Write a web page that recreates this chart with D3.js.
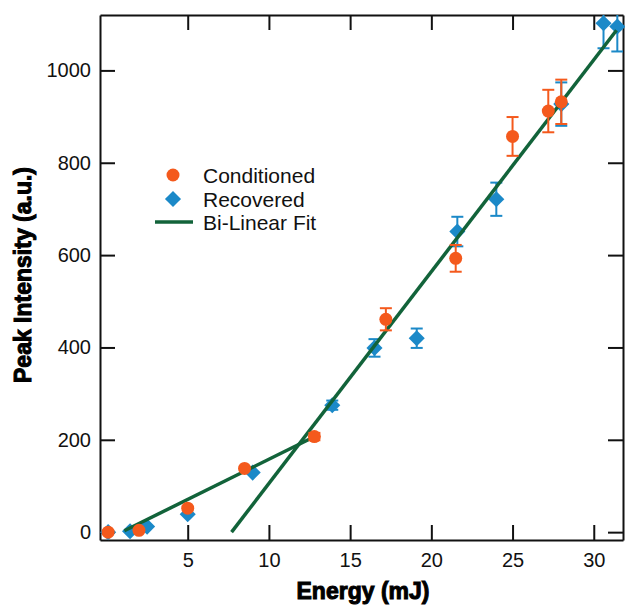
<!DOCTYPE html>
<html>
<head>
<meta charset="utf-8">
<script src="https://cdn.jsdelivr.net/npm/d3@7"></script>
<style>
  body { margin: 0; background: #fff; }
  svg { display: block; font-family: "Liberation Sans", Arial, sans-serif; }
</style>
</head>
<body>
<div id="chart"></div>
<script>
// Conditioned series (orange circles)
var condEnergy = [0.1, 2.0, 5.0, 8.5, 12.8, 17.2, 21.5, 25.0, 27.2, 28.0]
var condIntensity = [0, 4, 52, 138, 207, 461, 593, 857, 912, 932]
var condError = [0, 0, 0, 0, 8, 24, 29, 42, 46, 48]

// Recovered series (blue diamonds)
var recEnergy = [0.1, 1.45, 2.5, 5.0, 9.0, 13.9, 16.5, 19.1, 21.6, 24.0, 28.0, 30.6, 31.45]
var recIntensity = [0, 2, 12, 39, 129, 275, 399, 420, 651, 721, 927, 1102, 1095]
var recError = [0, 0, 0, 0, 0, 10, 19, 21, 32, 36, 47, 54, 54]

// bi-linear fit, two segments (endpoints)
var fitLowEnergy = [1.1, 12.7]
var fitLowIntensity = [3, 205]
var fitHighEnergy = [7.7, 31.4]
var fitHighIntensity = [0, 1087]

var xTicks = [5, 10, 15, 20, 25, 30]
var yTicks = [0, 200, 400, 600, 800, 1000]
var legendLabels = ["Conditioned", "Recovered", "Bi-Linear Fit"]

var orange = "#f4591c"
var blue = "#1b89c8"
var green = "#12633a"

var width = 625, height = 607
var plotLeft = 100, plotRight = 623, plotTop = 15, plotBottom = 540

var svg = d3.select("#chart").append("svg")
    .attr("width", width)
    .attr("height", height)

// clip for the error bars that run past the top
svg.append("clipPath").attr("id", "plotclip")
    .append("rect")
    .attr("x", plotLeft).attr("y", plotTop)
    .attr("width", plotRight - plotLeft).attr("height", plotBottom - plotTop)

var x = d3.scaleLinear().domain([-0.4, 31.8]).range([plotLeft, plotRight])
var y = d3.scaleLinear().domain([-17, 1120]).range([plotBottom, plotTop])

// axes, ticks pointing inward on all four sides
var tickLen = 15
svg.append("g").attr("transform", "translate(0," + plotBottom + ")")
    .call(d3.axisBottom(x).tickValues(xTicks).tickSizeInner(-tickLen).tickSizeOuter(0).tickPadding(13))
svg.append("g").attr("transform", "translate(0," + plotTop + ")")
    .call(d3.axisTop(x).tickValues(xTicks).tickSizeInner(-tickLen).tickSizeOuter(0).tickFormat(""))
svg.append("g").attr("transform", "translate(" + plotLeft + ",0)")
    .call(d3.axisLeft(y).tickValues(yTicks).tickFormat(d3.format("d")).tickSizeInner(-tickLen).tickSizeOuter(0).tickPadding(9))
svg.append("g").attr("transform", "translate(" + plotRight + ",0)")
    .call(d3.axisRight(y).tickValues(yTicks).tickSizeInner(-tickLen).tickSizeOuter(0).tickFormat(""))

svg.selectAll(".domain").attr("stroke", "#111").attr("stroke-width", 2)
svg.selectAll(".tick line").attr("stroke", "#111").attr("stroke-width", 2)
svg.selectAll(".tick text")
    .attr("font-size", 20)
    .attr("font-family", "Liberation Sans, Arial, sans-serif")
    .attr("fill", "#111")

// axis titles
svg.append("text")
    .attr("x", 363).attr("y", 599)
    .attr("text-anchor", "middle")
    .attr("font-size", 23).attr("font-weight", "bold")
    .attr("stroke", "#000").attr("stroke-width", 1)
    .text("Energy (mJ)")
svg.append("text")
    .attr("transform", "translate(31,275) rotate(-90)")
    .attr("text-anchor", "middle")
    .attr("font-size", 23).attr("font-weight", "bold")
    .attr("stroke", "#000").attr("stroke-width", 1)
    .text("Peak Intensity (a.u.)")

var cond = condEnergy.map(function (e, i) { return { e: e, v: condIntensity[i], err: condError[i] } })
var rec = recEnergy.map(function (e, i) { return { e: e, v: recIntensity[i], err: recError[i] } })

// error bars
function errorBars(data, color) {
    var g = svg.append("g").attr("stroke", color).attr("stroke-width", 2)
        .attr("clip-path", "url(#plotclip)")
    data.filter(function (d) { return d.err > 0 }).forEach(function (d) {
        var cx = x(d.e), y1 = y(d.v + d.err), y2 = y(d.v - d.err)
        g.append("line").attr("x1", cx).attr("x2", cx).attr("y1", y1).attr("y2", y2)
        g.append("line").attr("x1", cx - 6).attr("x2", cx + 6).attr("y1", y1).attr("y2", y1)
        g.append("line").attr("x1", cx - 6).attr("x2", cx + 6).attr("y1", y2).attr("y2", y2)
    })
}

var diamond = d3.symbol().type(d3.symbolDiamond2).size(165)

errorBars(rec, blue)
svg.append("g").selectAll("path")
    .data(rec)
    .enter().append("path")
    .attr("d", diamond)
    .attr("transform", function (d) { return "translate(" + x(d.e) + "," + y(d.v) + ")" })
    .attr("fill", blue)

// fit lines
var line = d3.line().x(function (d) { return x(d[0]) }).y(function (d) { return y(d[1]) })
var fitLow = fitLowEnergy.map(function (e, i) { return [e, fitLowIntensity[i]] })
var fitHigh = fitHighEnergy.map(function (e, i) { return [e, fitHighIntensity[i]] })
svg.append("path").attr("d", line(fitLow)).attr("stroke", green).attr("stroke-width", 3.5).attr("fill", "none")
svg.append("path").attr("d", line(fitHigh)).attr("stroke", green).attr("stroke-width", 3.5).attr("fill", "none")

errorBars(cond, orange)
svg.append("g").selectAll("circle")
    .data(cond)
    .enter().append("circle")
    .attr("cx", function (d) { return x(d.e) })
    .attr("cy", function (d) { return y(d.v) })
    .attr("r", 6.5)
    .attr("fill", orange)

// legend
var lg = svg.append("g")
var rows = [175, 199, 222]
lg.append("circle").attr("cx", 173).attr("cy", rows[0]).attr("r", 6.5).attr("fill", orange)
lg.append("path").attr("d", diamond).attr("transform", "translate(173," + rows[1] + ")").attr("fill", blue)
lg.append("line").attr("x1", 155).attr("x2", 193).attr("y1", rows[2]).attr("y2", rows[2])
    .attr("stroke", green).attr("stroke-width", 3.5)
lg.selectAll("text")
    .data(legendLabels)
    .enter().append("text")
    .attr("x", 203)
    .attr("y", function (d, i) { return rows[i] + 7.5 })
    .attr("font-size", 21)
    .attr("fill", "#111")
    .text(function (d) { return d })
</script>
</body>
</html>
